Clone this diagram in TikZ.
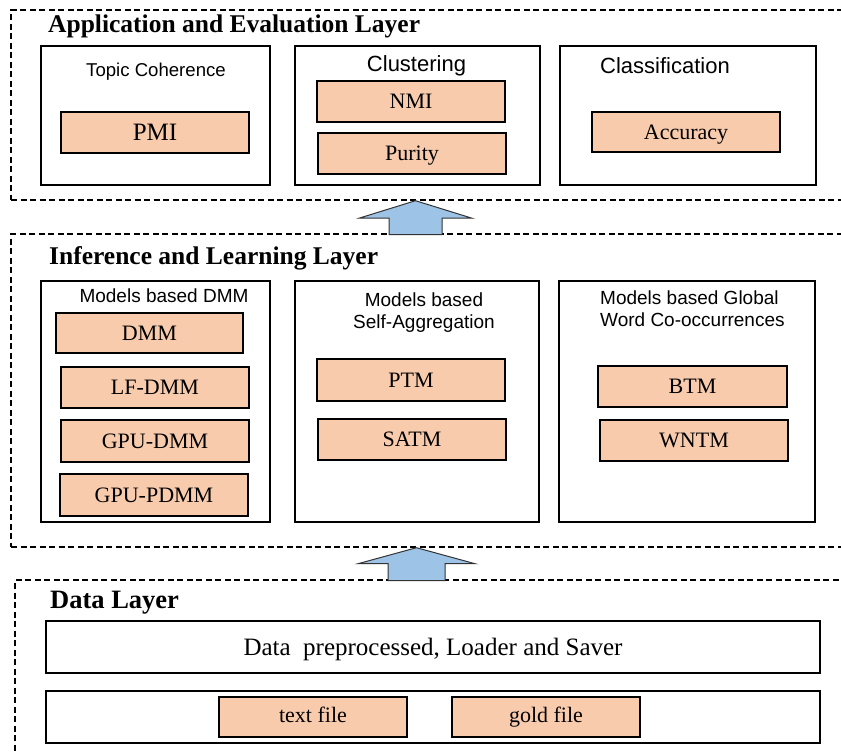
\documentclass[tikz,border=0pt]{standalone}
\usepackage{fontspec}
\setmainfont{Liberation Serif}
\setsansfont{Liberation Sans}
\usetikzlibrary{calc}
\definecolor{peach}{HTML}{F8CBAD}
\definecolor{skyb}{HTML}{9DC3E6}
\begin{document}
\begin{tikzpicture}[x=1pt,y=-1pt,
  layerbox/.style={draw, line width=1.4pt, dash pattern=on 6pt off 3.5pt, inner sep=0pt},
  groupbox/.style={draw, line width=1.8pt, fill=white, inner sep=0pt},
  itembox/.style={draw, line width=2.2pt, fill=peach, inner sep=0pt, minimum width=188pt, minimum height=41pt,
    font=\fontsize{22}{26}\selectfont, text height=14.5pt, text depth=0pt},
  layertitle/.style={anchor=base west, inner sep=0pt, font=\bfseries\fontsize{25.5}{30}\selectfont},
  grouplabel/.style={inner sep=0pt, font=\sffamily\fontsize{19}{22}\selectfont},
  uparrow/.style={draw=black!80, line width=1pt, fill=skyb, line join=miter}
]
\useasboundingbox (0,0) rectangle (841,753);
\clip (0,0) rectangle (841,753);
\fill[white] (0,0) rectangle (841,753);

% ---------- layers ----------
\node[layerbox, minimum width=834pt, minimum height=190pt] (applayer) at (428,105) {};
\node[layerbox, minimum width=834pt, minimum height=313pt] (midlayer) at (428,390.5) {};
\node[layerbox, minimum width=830pt, minimum height=180pt] (datalayer) at (430,670) {};

\node[layertitle] (apptitle) at (48,32) {Application and Evaluation Layer};
\node[layertitle] (midtitle) at (49,264) {Inference and Learning Layer};
\node[layertitle, font=\bfseries\fontsize{26.5}{30}\selectfont] (datatitle) at (50,608) {Data Layer};

% ---------- application layer ----------
\node[groupbox, minimum width=229pt, minimum height=139pt] (tc) at (155.5,115.5) {};
\node[groupbox, minimum width=245pt, minimum height=139pt] (cl) at (417.5,115.5) {};
\node[groupbox, minimum width=256pt, minimum height=139pt] (cf) at (688,115.5) {};
\node[grouplabel, anchor=base, font=\sffamily\fontsize{18.6}{22}\selectfont] (tclab) at (156,76) {Topic Coherence};
\node[grouplabel, anchor=base, font=\sffamily\fontsize{22}{26}\selectfont] (cllab) at (416.5,71) {Clustering};
\node[grouplabel, anchor=base, font=\sffamily\fontsize{22}{26}\selectfont] (cflab) at (665,73) {Classification};
\node[itembox, font=\fontsize{25}{30}\selectfont, text height=16pt] (pmi) at (155,132.5) {PMI};
\node[itembox] (nmi) at (411,101.5) {NMI};
\node[itembox] (pur) at (412,153.5) {Purity};
\node[itembox, minimum height=40pt] (acc) at (686,132) {Accuracy};

% ---------- inference layer ----------
\node[groupbox, minimum width=229pt, minimum height=241pt] (m1) at (155.5,401.5) {};
\node[groupbox, minimum width=244pt, minimum height=241pt] (m2) at (417,401.5) {};
\node[groupbox, minimum width=256pt, minimum height=241pt] (m3) at (687,401.5) {};
\node[grouplabel, anchor=base] (m1lab) at (164,302) {Models based DMM};
\node[grouplabel, align=center, anchor=north] (m2lab) at (424,293) {Models based\\Self-Aggregation};
\node[grouplabel, align=left, anchor=north west] (m3lab) at (600,291) {Models based Global\\Word Co-occurrences};
\node[itembox, minimum width=187pt, minimum height=40pt] (dmm) at (149.5,333) {DMM};
\node[itembox] (lfdmm) at (155,387.5) {LF-DMM};
\node[itembox, minimum height=42pt] (gpudmm) at (155,441) {GPU-DMM};
\node[itembox, minimum height=42pt] (gpupdmm) at (154,495) {GPU-PDMM};
\node[itembox, minimum height=42pt] (ptm) at (411,380) {PTM};
\node[itembox] (satm) at (412,439.5) {SATM};
\node[itembox, minimum width=189pt] (btm) at (692.5,386.5) {BTM};
\node[itembox] (wntm) at (694,440.5) {WNTM};

% ---------- data layer ----------
\node[groupbox, minimum width=774pt, minimum height=52pt, font=\fontsize{25}{30}\selectfont, text height=16.5pt, text depth=0pt] (dp) at (433,647) {Data~~preprocessed, Loader and Saver};
\node[groupbox, minimum width=774pt, minimum height=52pt] (files) at (433,717) {};
\node[itembox, minimum height=40pt, text height=11pt] (tf) at (313,717) {text file};
\node[itembox, minimum height=40pt, text height=11pt] (gf) at (546,717) {gold file};

% ---------- arrows between layers ----------
\coordinate (tipA) at ([xshift=-12.5pt]applayer.south);
\coordinate (tipB) at ([xshift=-11.5pt]midlayer.south);
\draw[uparrow] (tipA) -- ++(56.5,17.5) -- ++(-30,0) -- ++(0,16.5) -- ++(-53,0) -- ++(0,-16.5) -- ++(-30,0) -- cycle;
\draw[uparrow] (tipB) -- ++(58.5,16) -- ++(-30,0) -- ++(0,17) -- ++(-57,0) -- ++(0,-17) -- ++(-30,0) -- cycle;
\end{tikzpicture}
\end{document}
